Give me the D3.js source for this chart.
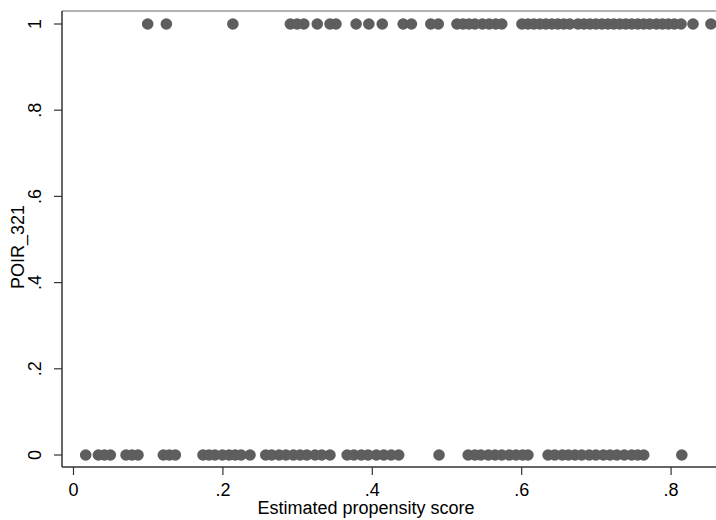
<!DOCTYPE html>
<html>
<head>
<meta charset="utf-8">
<script src="https://cdn.jsdelivr.net/npm/d3@7"></script>
<style>
  html, body { margin: 0; padding: 0; background: #fff; }
  svg { display: block; }
  text { font-family: "Liberation Sans", Arial, sans-serif; fill: #000; }
</style>
</head>
<body>
<svg id="chart" width="716" height="520"></svg>
<script>
// Estimated propensity scores for observations with POIR_321 = 1
const treatedScores = [0.100, 0.125, 0.214, 0.291, 0.300, 0.309, 0.327, 0.344, 0.352, 0.379,
  0.396, 0.414, 0.442, 0.453, 0.479, 0.489, 0.514, 0.522, 0.530, 0.538, 0.548, 0.557, 0.566,
  0.574, 0.601, 0.609, 0.617, 0.625, 0.633, 0.641, 0.649, 0.657, 0.665, 0.676, 0.684, 0.692,
  0.700, 0.708, 0.716, 0.724, 0.732, 0.740, 0.748, 0.756, 0.764, 0.772, 0.781, 0.789, 0.797,
  0.805, 0.814, 0.830, 0.854];
// Estimated propensity scores for observations with POIR_321 = 0
const controlScores = [0.017, 0.034, 0.042, 0.050, 0.071, 0.079, 0.087, 0.121, 0.129, 0.137,
  0.174, 0.182, 0.190, 0.200, 0.209, 0.217, 0.225, 0.237, 0.258, 0.266, 0.276, 0.285, 0.295,
  0.304, 0.313, 0.324, 0.333, 0.344, 0.367, 0.376, 0.386, 0.395, 0.406, 0.416, 0.426, 0.436,
  0.490, 0.529, 0.538, 0.546, 0.556, 0.565, 0.574, 0.584, 0.593, 0.602, 0.609, 0.636, 0.645,
  0.655, 0.663, 0.672, 0.681, 0.691, 0.700, 0.710, 0.719, 0.728, 0.738, 0.748, 0.756, 0.764,
  0.815];
const xTicks = [0, 0.2, 0.4, 0.6, 0.8];
const xTickLabels = ["0", ".2", ".4", ".6", ".8"];
const yTicks = [0, 0.2, 0.4, 0.6, 0.8, 1];
const yTickLabels = ["0", ".2", ".4", ".6", ".8", "1"];
const xTitle = "Estimated propensity score";
const yTitle = "POIR_321";

const points = treatedScores.map(s => ({x: s, y: 1}))
  .concat(controlScores.map(s => ({x: s, y: 0})));

const svg = d3.select("#chart");
const frame = {left: 62, top: 11, bottom: 467, right: 716};
const FS = 18;

const x = d3.scaleLinear().domain([0, 1]).range([73, 820]);
const y = d3.scaleLinear().domain([0, 1]).range([455, 24]);

// plot region outline (top line visible in light grey)
svg.append("line")
  .attr("x1", frame.left).attr("x2", frame.right)
  .attr("y1", frame.top).attr("y2", frame.top)
  .attr("stroke", "#9a9a9a").attr("stroke-width", 1.5);

// points
svg.append("clipPath").attr("id", "clip")
  .append("rect").attr("x", frame.left).attr("y", frame.top)
  .attr("width", frame.right - frame.left).attr("height", frame.bottom - frame.top);

svg.append("g").attr("clip-path", "url(#clip)")
  .selectAll("circle").data(points).enter().append("circle")
  .attr("cx", d => x(d.x)).attr("cy", d => y(d.y))
  .attr("r", 5.8)
  .attr("fill", "#5e5e5e");

// y axis
const yAxis = d3.axisLeft(y).tickValues(yTicks)
  .tickFormat((d, i) => yTickLabels[i]).tickSize(8).tickPadding(6);
const gy = svg.append("g").attr("transform", `translate(${frame.left},0)`).call(yAxis);
gy.select(".domain").remove();
gy.selectAll(".tick").attr("transform", "translate(0,0)");
gy.selectAll(".tick line").attr("stroke", "#333").attr("stroke-width", 1.2)
  .attr("y1", d => y(d)).attr("y2", d => y(d));
gy.selectAll(".tick text")
  .attr("font-size", FS).attr("text-anchor", "middle")
  .attr("transform", d => `translate(-27,${y(d)}) rotate(-90)`)
  .attr("x", 0).attr("y", 0).attr("dy", "0.35em")
  .style("font-family", "'Liberation Sans', Arial, sans-serif");
svg.append("line")
  .attr("x1", frame.left).attr("x2", frame.left)
  .attr("y1", frame.top).attr("y2", frame.bottom)
  .attr("stroke", "#333").attr("stroke-width", 1.5);

// x axis
const xAxis = d3.axisBottom(x).tickValues(xTicks)
  .tickFormat((d, i) => xTickLabels[i]).tickSize(8).tickPadding(8);
const gx = svg.append("g").attr("transform", `translate(0,${frame.bottom})`).call(xAxis);
gx.select(".domain").remove();
gx.selectAll(".tick line").attr("stroke", "#333").attr("stroke-width", 1.2);
gx.selectAll(".tick text").attr("font-size", FS)
  .style("font-family", "'Liberation Sans', Arial, sans-serif");
svg.append("line")
  .attr("x1", frame.left).attr("x2", frame.right)
  .attr("y1", frame.bottom).attr("y2", frame.bottom)
  .attr("stroke", "#333").attr("stroke-width", 1.5);

// axis titles
svg.append("text")
  .attr("x", 366).attr("y", 514)
  .attr("text-anchor", "middle").attr("font-size", FS)
  .text(xTitle);
svg.append("text")
  .attr("transform", "translate(24,247) rotate(-90)")
  .attr("text-anchor", "middle").attr("font-size", FS)
  .text(yTitle);
</script>
</body>
</html>
